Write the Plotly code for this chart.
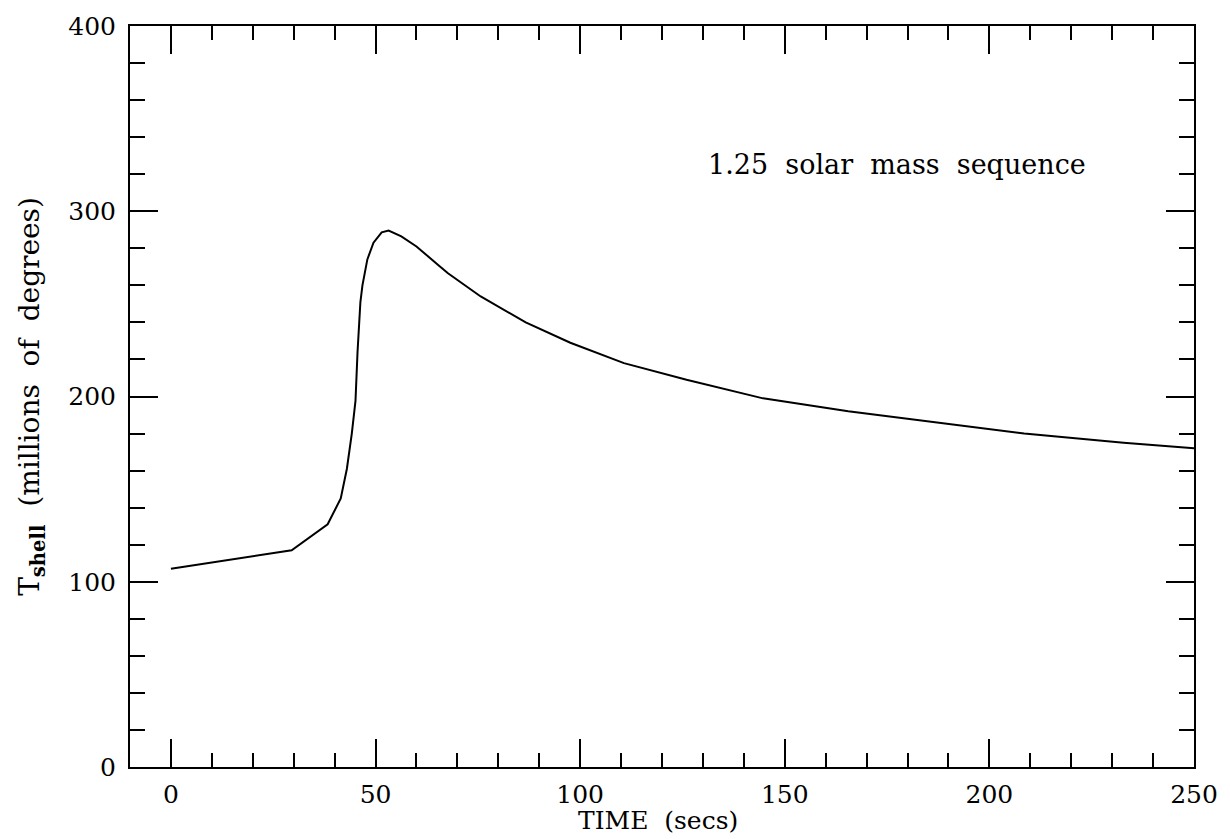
import plotly.graph_objects as go

time_s = [0, 29.5, 38.3, 41.5, 43, 44.2, 45.1, 45.6, 46.3, 46.8, 48, 49.5, 51.5, 53.2,
          56.3, 60, 65.3, 67.7, 75.7, 86.7, 97.6, 110.7, 126, 144.7, 165.5, 186.7,
          208.5, 232.8, 250]
t_shell = [107, 117, 131, 145, 161, 180, 197.6, 224, 251, 260, 274, 283, 288.6, 289.6,
           286.4, 281, 271, 266.5, 254, 240, 229, 218, 209, 199, 192, 186,
           180, 175, 172]
x_ticks = [0, 50, 100, 150, 200, 250]
y_ticks = [0, 100, 200, 300, 400]

FONT = "DejaVu Serif"
NB = "\u00a0"

fig = go.Figure()
fig.add_trace(go.Scatter(x=time_s, y=t_shell, mode="lines",
                         line=dict(color="black", width=2), showlegend=False,
                         hoverinfo="skip"))

axis_common = dict(
    showgrid=False, zeroline=False, showline=True, linecolor="black", linewidth=2,
    mirror="allticks", ticks="inside", ticklen=28, tickwidth=2, tickcolor="black",
    tickfont=dict(family=FONT, size=25, color="black"),
)

fig.update_xaxes(range=[-10, 250], tickvals=x_ticks, ticklabelstandoff=4,
                 minor=dict(dtick=10, ticks="inside", ticklen=14, tickwidth=2,
                            tickcolor="black", showgrid=False),
                 **axis_common)
fig.update_yaxes(range=[0, 400], tickvals=y_ticks, ticklabelstandoff=7,
                 minor=dict(dtick=20, ticks="inside", ticklen=15, tickwidth=2,
                            tickcolor="black", showgrid=False),
                 title=dict(text="T<sub><b>shell</b></sub>" + NB * 2 + "(millions" + NB * 2
                            + "of" + NB * 2 + "degrees)",
                            font=dict(family=FONT, size=28, color="black"), standoff=20),
                 **axis_common)

fig.add_annotation(x=0.4967, y=-0.0725, xref="paper", yref="paper", showarrow=False,
                   text="TIME" + NB * 2 + "(secs)", xanchor="center", yanchor="middle",
                   font=dict(family=FONT, size=25, color="black"))
fig.add_annotation(x=130.8, y=325, xref="x", yref="y", showarrow=False,
                   text="1.25" + NB * 2 + "solar" + NB * 2 + "mass" + NB * 2 + "sequence",
                   xanchor="left", yanchor="middle",
                   font=dict(family=FONT, size=27, color="black"))

fig.update_layout(width=1230, height=839, plot_bgcolor="white", paper_bgcolor="white",
                  margin=dict(l=130, r=30, t=24, b=72))

fig.write_html("out.html", config={"displayModeBar": False},
               post_script="document.body.style.margin='0px';document.body.style.padding='0px';"
                           "document.body.style.overflow='hidden';")
